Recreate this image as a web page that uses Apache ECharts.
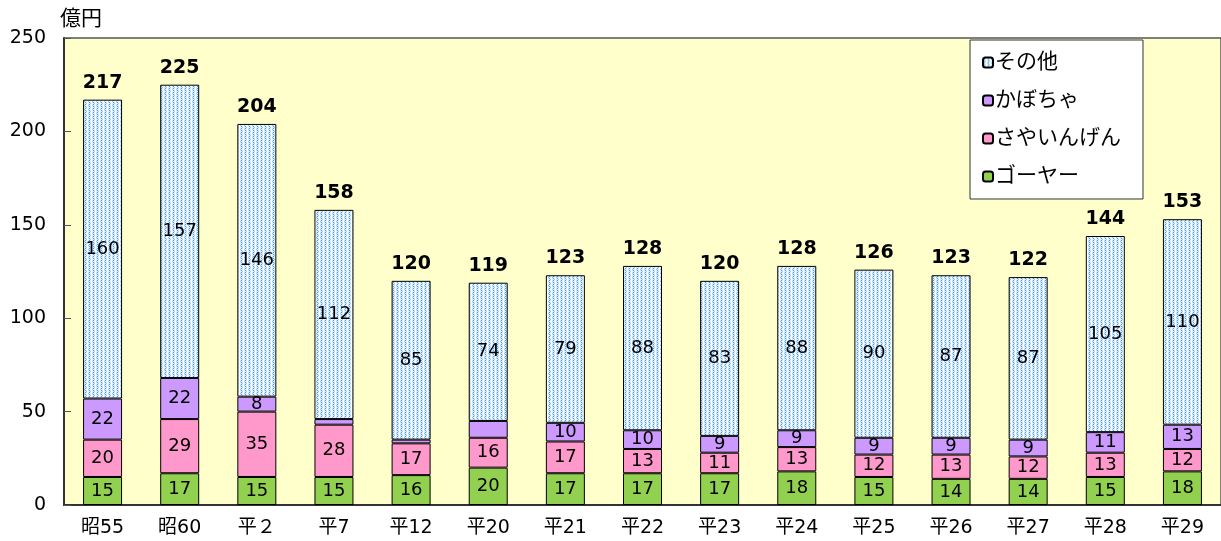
<!DOCTYPE html>
<html>
<head>
<meta charset="utf-8">
<script src="https://cdn.jsdelivr.net/npm/echarts@6/dist/echarts.min.js"></script>
<style>
  html, body { margin: 0; padding: 0; background: #fff; }
  #chart { width: 1221px; height: 541px; }
</style>
</head>
<body>
<div id="chart"></div>
<script>
const categories = ['昭55', '昭60', '平２', '平7', '平12', '平20', '平21', '平22', '平23', '平24', '平25', '平26', '平27', '平28', '平29']
const goya = [15, 17, 15, 15, 16, 20, 17, 17, 17, 18, 15, 14, 14, 15, 18]
const ingen = [20, 29, 35, 28, 17, 16, 17, 13, 11, 13, 12, 13, 12, 13, 12]
const kabocha = [22, 22, 8, 3, 2, 9, 10, 10, 9, 9, 9, 9, 9, 11, 13]
const others = [160, 157, 146, 112, 85, 74, 79, 88, 83, 88, 90, 87, 87, 105, 110]
const totals = [217, 225, 204, 158, 120, 119, 123, 128, 120, 128, 126, 123, 122, 144, 153]
// labels not printed in the original for these bars (かぼちゃ)
const kabochaHidden = [3, 4, 5]

const FONT = '"DejaVu Sans", "Noto Sans CJK JP", sans-serif'

// dotted fill for その他
const makeDots = () => {
    const c = document.createElement('canvas')
    c.width = 4
    c.height = 4
    const ctx = c.getContext('2d')
    ctx.fillStyle = '#dcedfc'
    ctx.fillRect(0, 0, 4, 4)
    ctx.fillStyle = '#ffffff'
    ctx.fillRect(3, 0, 1, 4)
    ctx.fillStyle = '#4a9be8'
    ctx.fillRect(1, 0, 1, 1)
    ctx.fillRect(1, 2, 1, 1)
    ctx.fillStyle = '#9ccaf2'
    ctx.fillRect(0, 1, 1, 1)
    ctx.fillRect(2, 3, 1, 1)
    return c
}

const innerLabel = {
    show: true,
    position: 'inside',
    color: '#000',
    fontSize: 18,
    fontFamily: FONT
}

const barSeries = (name, data, color, extra) => Object.assign({
    name,
    type: 'bar',
    stack: 'total',
    barWidth: 39,
    data,
    itemStyle: { color, borderColor: '#000', borderWidth: 1 },
    label: innerLabel,
    emphasis: { disabled: true }
}, extra || {})

const chart = echarts.init(document.getElementById('chart'))

chart.setOption({
    animation: false,
    textStyle: { fontFamily: FONT },
    grid: {
        left: 64,
        top: 38,
        bottom: 36,
        right: -10,
        show: true,
        backgroundColor: '#ffffcc',
        borderColor: '#555',
        borderWidth: 1.5
    },
    graphic: [
        {
            type: 'text',
            left: 60,
            top: 9,
            style: { text: '億円', fontSize: 21, fontFamily: FONT, fill: '#000' }
        }
    ],
    legend: {
        orient: 'vertical',
        left: 970,
        top: 40,
        padding: [12, 22, 12, 12],
        itemGap: 17,
        itemWidth: 10,
        itemHeight: 10,
        backgroundColor: '#fff',
        borderColor: '#333',
        borderWidth: 1,
        data: ['その他', 'かぼちゃ', 'さやいんげん', 'ゴーヤー'],
        textStyle: { fontSize: 21, color: '#000', fontFamily: FONT, padding: [0, 0, 0, -3] }
    },
    xAxis: {
        type: 'category',
        data: categories,
        axisLine: { lineStyle: { color: '#333', width: 2 } },
        axisTick: { inside: true, length: 6, lineStyle: { color: '#555' } },
        axisLabel: { fontSize: 19, color: '#000', margin: 14, fontFamily: FONT }
    },
    yAxis: {
        type: 'value',
        min: 0,
        max: 250,
        interval: 50,
        axisLine: { show: true, lineStyle: { color: '#333', width: 2 } },
        axisTick: { show: true, inside: true, length: 7, lineStyle: { color: '#555' } },
        splitLine: { show: false },
        axisLabel: { fontSize: 19, color: '#000', margin: 18, fontFamily: FONT }
    },
    series: [
        barSeries('ゴーヤー', goya, '#92d050'),
        barSeries('さやいんげん', ingen, '#ff99cc'),
        barSeries('かぼちゃ', kabocha.map((v, i) => (
            kabochaHidden.includes(i) ? { value: v, label: { show: false } } : v
        )), '#cc99ff'),
        barSeries('その他', others, { image: makeDots(), repeat: 'repeat' }),
        {
            name: '合計',
            type: 'line',
            data: totals,
            symbol: 'circle',
            symbolSize: 1,
            itemStyle: { color: 'rgba(0,0,0,0)' },
            lineStyle: { width: 0, opacity: 0 },
            silent: true,
            z: 10,
            label: {
                show: true,
                position: 'top',
                distance: 7,
                color: '#000',
                fontSize: 19,
                fontWeight: 'bold',
                fontFamily: FONT
            }
        }
    ]
})
</script>
</body>
</html>
